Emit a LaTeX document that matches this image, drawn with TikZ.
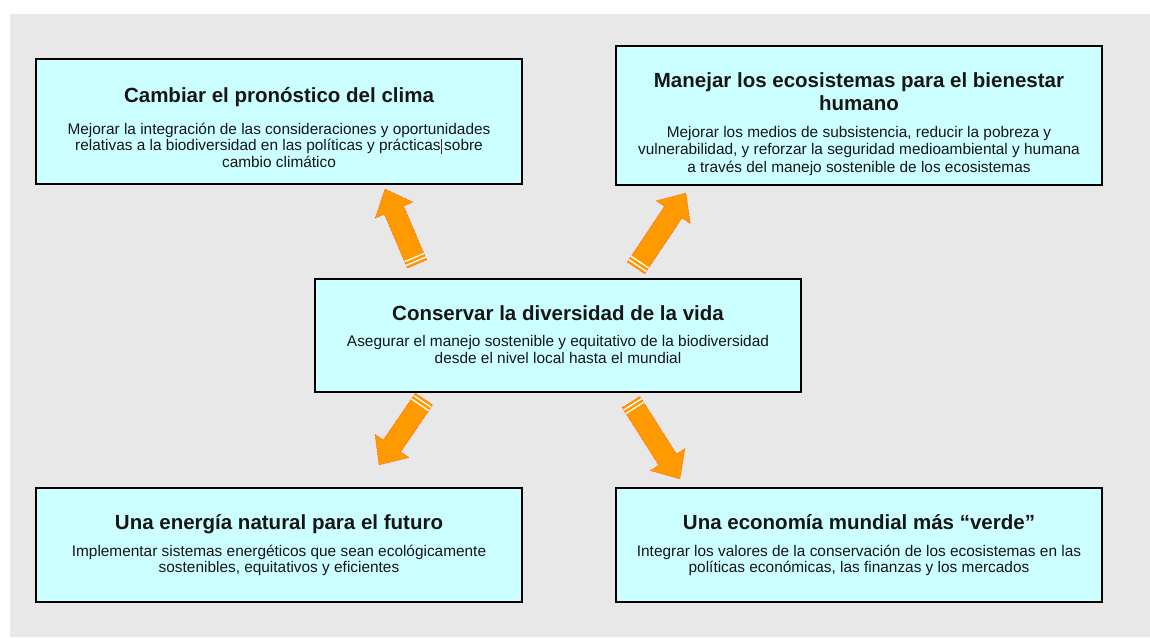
\documentclass[tikz,border=0pt]{standalone}
\usepackage{fontspec}
\setmainfont{Liberation Sans}
\usetikzlibrary{calc}
\definecolor{bgc}{RGB}{232,232,232}
\definecolor{boxc}{RGB}{204,255,255}
\definecolor{arrc}{RGB}{255,153,0}
\definecolor{arrline}{RGB}{255,50,0}
\definecolor{txt}{RGB}{22,22,22}
\definecolor{cursorc}{RGB}{110,20,20}
\newcommand\orangearrow[2]{%
  \path let \p1=($(#2)-(#1)$) in \pgfextra{%
    \pgfmathsetmacro\arrang{atan2(\y1,\x1)}%
    \pgfmathsetmacro\arrlen{veclen(\x1,\y1)}%
    \xdef\arrang{\arrang}\xdef\arrlen{\arrlen}};
  \begin{scope}[shift={(#1)},rotate=\arrang]
    \fill[arrc] (0,-10.5) -- ({\arrlen-23},-10.5) -- ({\arrlen-23},-20.5) -- (\arrlen,0)
      -- ({\arrlen-23},20.5) -- ({\arrlen-23},10.5) -- (0,10.5) -- cycle;
    \draw[arrline,densely dotted,line width=0.5pt] (0,-10.5) -- ({\arrlen-23},-10.5) -- ({\arrlen-23},-20.5) -- (\arrlen,0)
      -- ({\arrlen-23},20.5) -- ({\arrlen-23},10.5) -- (0,10.5) -- cycle;
    \draw[white,line width=1.3pt] (2.9,-10.5) -- (2.9,10.5) (7,-10.5) -- (7,10.5);
  \end{scope}}
\begin{document}
\begin{tikzpicture}[x=1pt,y=1pt,
  box/.style={draw=black,line width=2.8pt,fill=boxc,minimum width=486pt,inner sep=0pt},
  ttl/.style={anchor=base,inner sep=0pt,text=txt,font=\fontsize{20.5}{23.5}\selectfont\bfseries},
  bdy/.style={anchor=base,inner sep=0pt,text=txt,font=\fontsize{15.4}{16.7}\selectfont}]
\useasboundingbox (0,0) rectangle (1150,-637);
\fill[white] (0,0) rectangle (1150,-637);
\fill[bgc] (10,-14) rectangle (1150,-637);

% boxes
\node[box,minimum height=125pt] (tl) at (279,-121.5) {};
\node[box,minimum height=139pt] (tr) at (859,-115.5) {};
\node[box,minimum height=113pt] (c)  at (558,-335.5) {};
\node[box,minimum height=114pt] (bl) at (279,-545) {};
\node[box,minimum height=114pt] (br) at (859,-545) {};

% top left
\node[ttl] (tlT) at (279,-102) {Cambiar el pronóstico del clima};
\node[bdy] (tlB1) at (279,-134) {Mejorar la integración de las consideraciones y oportunidades};
\node[bdy] (tlB2) at (279,-150.5) {relativas a la biodiversidad en las políticas y prácticas\textcolor{cursorc}{\rule[-3pt]{1pt}{15pt}}\hspace{2.5pt}sobre};
\node[bdy] (tlB3) at (279,-167) {cambio climático};

% top right
\node[ttl] (trT1) at (859,-87) {Manejar los ecosistemas para el bienestar};
\node[ttl] (trT2) at (859,-110.5) {humano};
\node[bdy] (trB1) at (859,-137) {Mejorar los medios de subsistencia, reducir la pobreza y};
\node[bdy] (trB2) at (859,-154.5) {vulnerabilidad, y reforzar la seguridad medioambiental y humana};
\node[bdy] (trB3) at (859,-172) {a través del manejo sostenible de los ecosistemas};

% center
\node[ttl] (cT) at (558,-320) {Conservar la diversidad de la vida};
\node[bdy] (cB1) at (558,-346.5) {Asegurar el manejo sostenible y equitativo de la biodiversidad};
\node[bdy] (cB2) at (558,-363.5) {desde el nivel local hasta el mundial};

% bottom left
\node[ttl] (blT) at (279,-529.5) {Una energía natural para el futuro};
\node[bdy] (blB1) at (279,-556) {Implementar sistemas energéticos que sean ecológicamente};
\node[bdy] (blB2) at (279,-572.5) {sostenibles, equitativos y eficientes};

% bottom right
\node[ttl] (brT) at (859,-529.5) {Una economía mundial más “verde”};
\node[bdy] (brB1) at (859,-556) {Integrar los valores de la conservación de los ecosistemas en las};
\node[bdy] (brB2) at (859,-572.5) {políticas económicas, las finanzas y los mercados};

% arrows
\coordinate (a1s) at (417,-264);
\coordinate (a1e) at (385,-189);
\coordinate (a2s) at (636,-268);
\coordinate (a2e) at (686,-193);
\coordinate (a3s) at (424,-399);
\coordinate (a3e) at (379,-465);
\coordinate (a4s) at (631,-402);
\coordinate (a4e) at (680,-479);
\orangearrow{a1s}{a1e}
\orangearrow{a2s}{a2e}
\orangearrow{a3s}{a3e}
\orangearrow{a4s}{a4e}
\end{tikzpicture}
\end{document}
